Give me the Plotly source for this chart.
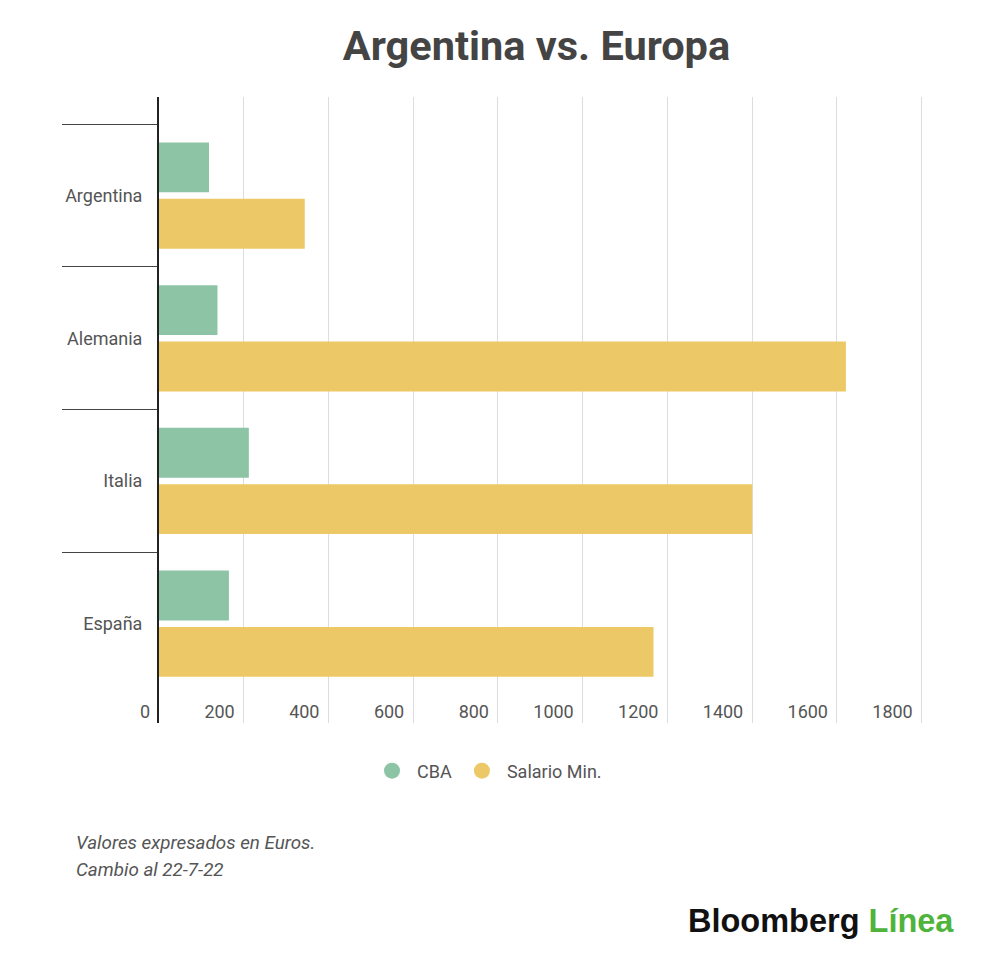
import plotly.graph_objects as go

countries = ["Argentina", "Alemania", "Italia", "España"]
cba = [118, 138, 212, 165]
salario_min = [344, 1621, 1400, 1167]
series_names = ["CBA", "Salario Min."]
x_ticks = [0, 200, 400, 600, 800, 1000, 1200, 1400, 1600, 1800]

GREEN = "#8cc4a5"
YELLOW = "#edc866"
TEXT = "#555555"

# plot area in figure pixels (page is offset by the 8px body margin)
L, R, T, B = 150.5, 914.7, 89, 715
PW, PH = R - L, B - T


def px(fx):
    return (fx - L) / PW


def py(fy):
    return (B - fy) / PH


fig = go.Figure()
fig.add_trace(go.Bar(y=countries, x=cba, orientation="h", name=series_names[0],
                     marker=dict(color=GREEN, line=dict(width=0)), showlegend=False))
fig.add_trace(go.Bar(y=countries, x=salario_min, orientation="h", name=series_names[1],
                     marker=dict(color=YELLOW, line=dict(width=0)), showlegend=False))
# legend entries with circle symbols
fig.add_trace(go.Scatter(x=[None], y=[None], mode="markers", name=series_names[0],
                         marker=dict(color=GREEN, size=22, symbol="circle")))
fig.add_trace(go.Scatter(x=[None], y=[None], mode="markers", name=series_names[1],
                         marker=dict(color=YELLOW, size=22, symbol="circle")))

fig.update_layout(
    width=1000, height=967,
    margin=dict(l=L, r=1000 - R, t=T, b=967 - B),
    paper_bgcolor="white", plot_bgcolor="white",
    font=dict(family="Roboto", color=TEXT, size=18),
    barmode="group", bargap=0.21, bargroupgap=0.115,
    title=dict(text="<b>Argentina vs. Europa</b>", x=0.5285, xref="container", xanchor="center",
               y=1 - 37 / 967, yanchor="middle",
               font=dict(family="Roboto", size=41.5, color="#444444")),
    legend=dict(orientation="h", xref="container", yref="container",
                x=0.479, xanchor="center", y=1 - 763 / 967, yanchor="middle",
                font=dict(size=18, color=TEXT), itemwidth=40,
                traceorder="normal"),
    xaxis=dict(range=[0, 1803], tickvals=x_ticks, showgrid=True, gridcolor="#dddddd",
               gridwidth=1, zeroline=False, showline=False,
               ticklabelposition="inside left", ticklabeloverflow="allow",
               ticklabelshift=-9, ticklabelstandoff=-5,
               tickfont=dict(size=18, color=TEXT), ticks=""),
    yaxis=dict(categoryorder="array", categoryarray=countries,
               range=[3.696, -0.691], showgrid=False, zeroline=False,
               showline=True, linecolor="#222222", linewidth=2,
               ticks="outside", tickson="boundaries", ticklen=95,
               tickcolor="#444444", tickwidth=1,
               ticklabelstandoff=11,
               tickfont=dict(size=18, color=TEXT)),
    annotations=[
        dict(text="<i>Valores expresados en Euros.</i>", xref="paper", yref="paper",
             x=px(65), y=py(835), xanchor="left", yanchor="middle",
             showarrow=False, font=dict(size=18.8, color=TEXT)),
        dict(text="<i>Cambio al 22-7-22</i>", xref="paper", yref="paper",
             x=px(65), y=py(862), xanchor="left", yanchor="middle",
             showarrow=False, font=dict(size=18.8, color=TEXT)),
        dict(text="<b>Bloomberg</b> <b><span style='color:#4fb43c'>Línea</span></b>",
             xref="paper", yref="paper",
             x=px(948), y=py(913), xanchor="right", yanchor="middle",
             showarrow=False, font=dict(family="Liberation Sans", size=32.5, color="#111111")),
    ],
)

fig.write_html("out.html")
